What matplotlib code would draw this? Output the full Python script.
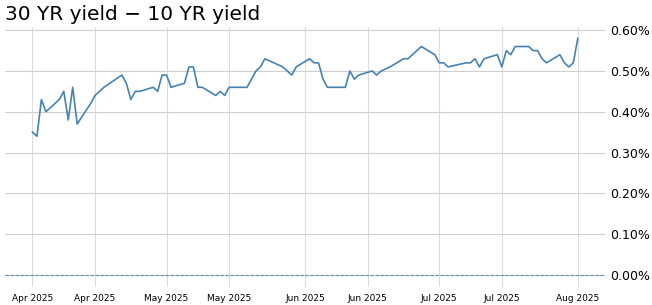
import matplotlib
matplotlib.use("Agg")
import matplotlib.pyplot as plt
import matplotlib.dates as mdates
import matplotlib.ticker as mticker
import pandas as pd

dates = [
    "2025-04-01", "2025-04-02", "2025-04-03", "2025-04-04", "2025-04-07", "2025-04-08",
    "2025-04-09", "2025-04-10", "2025-04-11", "2025-04-14", "2025-04-15", "2025-04-16",
    "2025-04-17", "2025-04-21", "2025-04-22", "2025-04-23", "2025-04-24", "2025-04-25",
    "2025-04-28", "2025-04-29", "2025-04-30", "2025-05-01", "2025-05-02", "2025-05-05",
    "2025-05-06", "2025-05-07", "2025-05-08", "2025-05-09", "2025-05-12", "2025-05-13",
    "2025-05-14", "2025-05-15", "2025-05-16", "2025-05-19", "2025-05-20", "2025-05-21",
    "2025-05-22", "2025-05-23", "2025-05-27", "2025-05-28", "2025-05-29", "2025-05-30",
    "2025-06-02", "2025-06-03", "2025-06-04", "2025-06-05", "2025-06-06", "2025-06-09",
    "2025-06-10", "2025-06-11", "2025-06-12", "2025-06-13", "2025-06-16", "2025-06-17",
    "2025-06-18", "2025-06-20", "2025-06-23", "2025-06-24", "2025-06-25", "2025-06-26",
    "2025-06-27", "2025-06-30", "2025-07-01", "2025-07-02", "2025-07-03", "2025-07-07",
    "2025-07-08", "2025-07-09", "2025-07-10", "2025-07-11", "2025-07-14", "2025-07-15",
    "2025-07-16", "2025-07-17", "2025-07-18", "2025-07-21", "2025-07-22", "2025-07-23",
    "2025-07-24", "2025-07-25", "2025-07-28", "2025-07-29", "2025-07-30", "2025-07-31",
    "2025-08-01",
]
spread = [
    0.35, 0.34, 0.43, 0.40, 0.43, 0.45,
    0.38, 0.46, 0.37, 0.42, 0.44, 0.45,
    0.46, 0.49, 0.47, 0.43, 0.45, 0.45,
    0.46, 0.45, 0.49, 0.49, 0.46, 0.47,
    0.51, 0.51, 0.46, 0.46, 0.44, 0.45,
    0.44, 0.46, 0.46, 0.46, 0.48, 0.50,
    0.51, 0.53, 0.51, 0.50, 0.49, 0.51,
    0.53, 0.52, 0.52, 0.48, 0.46, 0.46,
    0.46, 0.50, 0.48, 0.49, 0.50, 0.49,
    0.50, 0.51, 0.53, 0.53, 0.54, 0.55,
    0.56, 0.54, 0.52, 0.52, 0.51, 0.52,
    0.52, 0.53, 0.51, 0.53, 0.54, 0.51,
    0.55, 0.54, 0.56, 0.56, 0.55, 0.55,
    0.53, 0.52, 0.54, 0.52, 0.51, 0.52,
    0.58,
]
title = "30 YR yield \u2212 10 YR yield"

x = pd.to_datetime(dates)
line_color = "#4682b4"

fig = plt.figure(figsize=(6.52, 3.05), dpi=100)
ax = fig.add_axes([0.008, 0.06, 0.92, 0.853])
ax.plot(x, spread, color=line_color, linewidth=1.2)
ax.axhline(0, color=line_color, linestyle=(0, (3, 1.5)), linewidth=0.8, alpha=0.85)

ax.set_title(title, loc="left", fontsize=14.5, pad=5)
ax.yaxis.tick_right()
ax.yaxis.set_major_locator(mticker.MultipleLocator(0.1))
ax.yaxis.set_major_formatter(mticker.FuncFormatter(lambda v, p: f"{v:.2f}%"))
ax.xaxis.set_major_locator(mdates.DayLocator(bymonthday=[1, 15]))
ax.xaxis.set_major_formatter(mdates.DateFormatter("%b %Y"))
ax.tick_params(axis="y", length=0, labelsize=9, pad=4)
ax.tick_params(axis="x", length=0, labelsize=6.5, pad=5)
ax.grid(True, axis="y", color="#cfcfcf", linewidth=0.8)
ax.grid(True, axis="x", color="#dcdcdc", linewidth=0.8)
ax.set_axisbelow(True)
for s in ax.spines.values():
    s.set_visible(False)

fig.savefig("out.png", dpi=100)
